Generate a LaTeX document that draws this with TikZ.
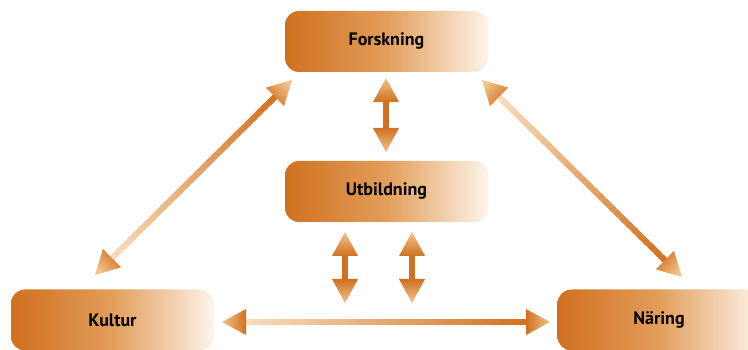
\documentclass[tikz,border=0pt]{standalone}
\usepackage{fontspec}
\setmainfont{PT Sans}
\usetikzlibrary{calc}
\definecolor{odark}{RGB}{208,112,32}
\definecolor{omid}{RGB}{226,158,90}
\definecolor{olight}{RGB}{253,244,234}
\definecolor{shlight}{RGB}{248,224,192}
\definecolor{hdlight}{RGB}{242,196,140}
\tikzset{
  box/.style={rounded corners=14pt, left color=odark, right color=olight, middle color=omid,
    minimum width=203pt, minimum height=61pt, inner sep=0pt,
    font=\fontsize{18}{20}\selectfont\bfseries, text=black},
  shaft/.style={line width=6pt, line cap=butt}
}
\newcommand\gshaft[4]{%
  \foreach \i in {0,...,29}{%
    \pgfmathsetmacro\pa{\i/30}%
    \pgfmathsetmacro\pb{min(1,(\i+1.5)/30)}%
    \pgfmathsetmacro\mx{100-100*(\i+0.5)/30}%
    \draw[shaft, color=#3!\mx!#4] ($(#1)!\pa!(#2)$) -- ($(#1)!\pb!(#2)$);
  }}
\newcommand\ghead[2]{%
  \pgfmathanglebetweenpoints{\pgfpointanchor{#2}{center}}{\pgfpointanchor{#1}{center}}%
  \pgfmathsetmacro\hsang{\pgfmathresult+90}%
  \coordinate (hb) at ($(#1)!24pt!(#2)$);
  \shade[top color=odark, bottom color=hdlight, shading angle=\hsang]
    (#1) -- ($(hb)!13pt!90:(#1)$) -- ($(hb)!13pt!-90:(#1)$) -- cycle;
}
\newcommand\garrow[4]{%
  \coordinate (s1) at ($(#1)!20pt!(#2)$);
  \coordinate (s2) at ($(#2)!20pt!(#1)$);
  \gshaft{s1}{s2}{#3}{#4}
  \ghead{#1}{#2}
  \ghead{#2}{#1}
}
\begin{document}
\begin{tikzpicture}[x=1pt,y=-1pt]
\fill[white] (0,0) rectangle (748,350);
\useasboundingbox (0,0) rectangle (748,350);

\node[box] (fors) at (386.5,41.5) {Forskning};
\node[box] (utb)  at (386.5,191.5) {Utbildning};
\node[box] (kult) at (112.5,320) {Kultur};
\node[box] (nar)  at (659,320) {Näring};

\coordinate (fu1) at (386,78);
\coordinate (fu2) at (386,152);
\coordinate (ka1) at (345,232);
\coordinate (ka2) at (345,303);
\coordinate (kb1) at (412,232);
\coordinate (kb2) at (412,303);
\coordinate (lk1) at (292,80);
\coordinate (lk2) at (95,275);
\coordinate (rn1) at (482,80);
\coordinate (rn2) at (682,277);
\coordinate (kn1) at (222,322);
\coordinate (kn2) at (550,322);

\garrow{fu1}{fu2}{odark}{odark}
\garrow{ka1}{ka2}{odark}{odark}
\garrow{kb1}{kb2}{odark}{odark}
\garrow{lk1}{lk2}{odark}{shlight}
\garrow{rn1}{rn2}{shlight}{odark}
\garrow{kn1}{kn2}{shlight}{odark}
\end{tikzpicture}
\end{document}
